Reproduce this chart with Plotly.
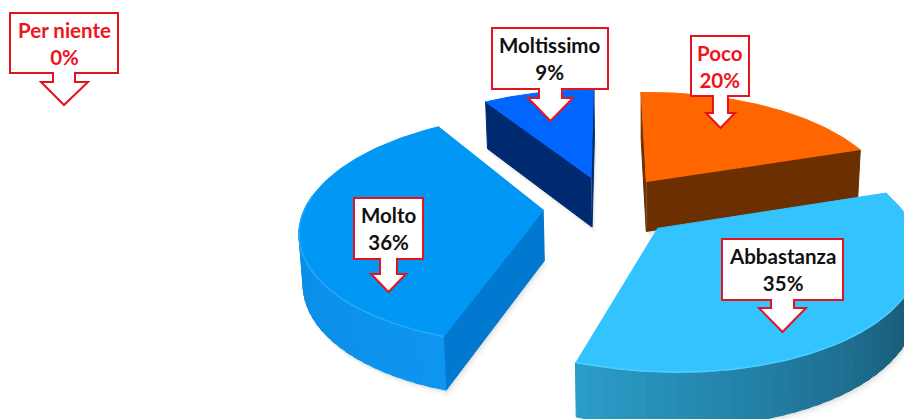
import numpy as np
import plotly.graph_objects as go

categories = ["Poco", "Abbastanza", "Molto", "Moltissimo", "Per niente"]
values = [20, 35, 36, 9, 0]

top_colors = ["#ff6600", "#33c3ff", "#0097f5", "#0066ff"]
cut_colors = ["#6b2f00", "#1d5f80", "#0279d0", "#002a70"]
wall_near = ["#6b2f00", "#2a9cc8", "#0a8ce4", "#002a70"]   # colour of the outer wall at the slice end
wall_far = ["#6b2f00", "#123f56", "#0e95f0", "#002a70"]    # colour at its start
rim_colors = ["#ff6600", "#4fcdff", "#2aa8fb", "#0066ff"]
label_colors = ["#f0141e", "#111111", "#111111", "#111111", "#f0141e"]
paint_order = [3, 0, 2, 1]

CX, CY, SX, SY, G, H, EXPLODE, DEPTH = 609, 206, 238, 111, 0.164, 0.03, 0.275, 50

def project(X, Y, bottom=False):
    w = 1 + G * Y - H * np.maximum(X, 0)
    u = CX + SX * X / w
    v = CY - SY * Y / w
    if bottom:
        v = v + DEPTH / w ** 0.4
        u = u - (u - 640) * 0.012
    return u, v

def poly(fig, u, v, color):
    fig.add_trace(go.Scatter(x=list(u), y=list(v), mode="lines", fill="toself", fillcolor=color,
                             line=dict(color=color, width=1), hoverinfo="skip", showlegend=False))

def mix(a, b, t):
    ca = [int(a[i:i + 2], 16) for i in (1, 3, 5)]
    cb = [int(b[i:i + 2], 16) for i in (1, 3, 5)]
    return "rgb(%d,%d,%d)" % tuple(round(x + (y - x) * t) for x, y in zip(ca, cb))

fig = go.Figure()
edges = np.concatenate([[0], np.cumsum(values)]) / sum(values) * 2 * np.pi

def slice_geometry(i):
    a0, a1 = edges[i], edges[i + 1]
    mid = (a0 + a1) / 2
    ox, oy = EXPLODE * np.sin(mid), EXPLODE * np.cos(mid)
    t = np.linspace(a0, a1, 91)
    return t, ox, oy, ox + np.sin(t), oy + np.cos(t)

# soft drop shadows
for i in paint_order:
    t, ox, oy, X, Y = slice_geometry(i)
    u, v = project(np.r_[ox, X], np.r_[oy, Y], bottom=True)
    for off, alpha in ((7, 0.025), (4, 0.04), (2, 0.05)):
        fig.add_trace(go.Scatter(x=list(u + off * 0.5), y=list(v + off), mode="lines", fill="toself",
                                 fillcolor=f"rgba(0,0,0,{alpha})", line=dict(width=0),
                                 hoverinfo="skip", showlegend=False))

for i in paint_order:
    t, ox, oy, X, Y = slice_geometry(i)
    # straight cut faces
    for x1, y1 in ((X[0], Y[0]), (X[-1], Y[-1])):
        ut, vt = project(np.array([ox, x1]), np.array([oy, y1]))
        ub, vb = project(np.array([ox, x1]), np.array([oy, y1]), bottom=True)
        qu = np.r_[ut, ub[::-1]]
        qv = np.r_[vt, vb[::-1]]
        is_start = x1 == X[0]
        area = 0.5 * np.sum(qu * np.roll(qv, -1) - np.roll(qu, -1) * qv)
        if (area < 0) == is_start:
            poly(fig, qu, qv, cut_colors[i])
    # curved outer wall: painted back to front so each strip overlaps its neighbour
    ut, vt = project(X, Y)
    ub, vb = project(X, Y, bottom=True)
    step = 2
    front = []
    visible = [k for k in range(0, len(t) - 1, step) if np.cos(t[k] + (t[1] - t[0])) < 0.1]
    for n, k in enumerate(visible):
        e = min(k + step + 1, len(t) - 1)
        qu = [ut[k], ut[e], ub[e], ub[k]]
        qv = [vt[k], vt[e], vb[e], vb[k]]
        f = n / max(len(visible) - 1, 1)
        poly(fig, qu, qv, mix(wall_far[i], wall_near[i], f))
        front.extend(range(k, e + 1))
    # top face
    u, v = project(np.r_[ox, X], np.r_[oy, Y])
    poly(fig, u, v, top_colors[i])
    if front:
        fig.add_trace(go.Scatter(x=list(ut[front]), y=list(vt[front]), mode="lines",
                                 line=dict(color=rim_colors[i], width=1.5), hoverinfo="skip", showlegend=False))

# callouts: box left, right, top, bottom, stem left, stem right, neck y, wing left, wing right, tip y
callouts = {
    "Per niente": (10, 118, 13, 73, 53, 75, 82, 41, 88, 105),
    "Moltissimo": (492, 608, 28, 89, 539, 562, 98, 528, 573, 121),
    "Poco": (691, 749, 36, 96, 713, 728, 113, 706, 735, 128),
    "Abbastanza": (722, 843, 239, 300, 771, 794, 308, 759, 806, 332),
    "Molto": (354, 423, 198, 259, 380, 397, 274, 371, 406, 292),
}
shapes = []
annotations = []
for cat, val, col in zip(categories, values, label_colors):
    l, r, tp, b, s0, s1, n, w0, w1, tip = callouts[cat]
    path = (f"M{l},{tp} L{r},{tp} L{r},{b} L{s1},{b} L{s1},{n} L{w1},{n} "
            f"L{(s0 + s1) / 2},{tip} L{w0},{n} L{s0},{n} L{s0},{b} L{l},{b} Z")
    shapes.append(dict(type="path", path=path, xref="x", yref="y", fillcolor="white",
                       line=dict(color="#e3131f", width=2), layer="above"))
    annotations.append(dict(x=(l + r) / 2, y=(tp + b) / 2, xref="x", yref="y",
                            text=f"<b>{cat}<br>{val}%</b>", showarrow=False, align="center",
                            font=dict(family="Lato", size=20.5, color=col)))

fig.update_layout(
    width=904, height=419, margin=dict(l=0, r=0, t=0, b=0), autosize=False,
    paper_bgcolor="white", plot_bgcolor="white", showlegend=False,
    xaxis=dict(range=[0, 904], visible=False, fixedrange=True),
    yaxis=dict(range=[419, 0], visible=False, fixedrange=True),
    shapes=shapes, annotations=annotations,
)
fig.write_html("out.html", config=dict(displayModeBar=False),
               post_script="document.body.style.margin='0';document.documentElement.style.overflow='hidden';")
